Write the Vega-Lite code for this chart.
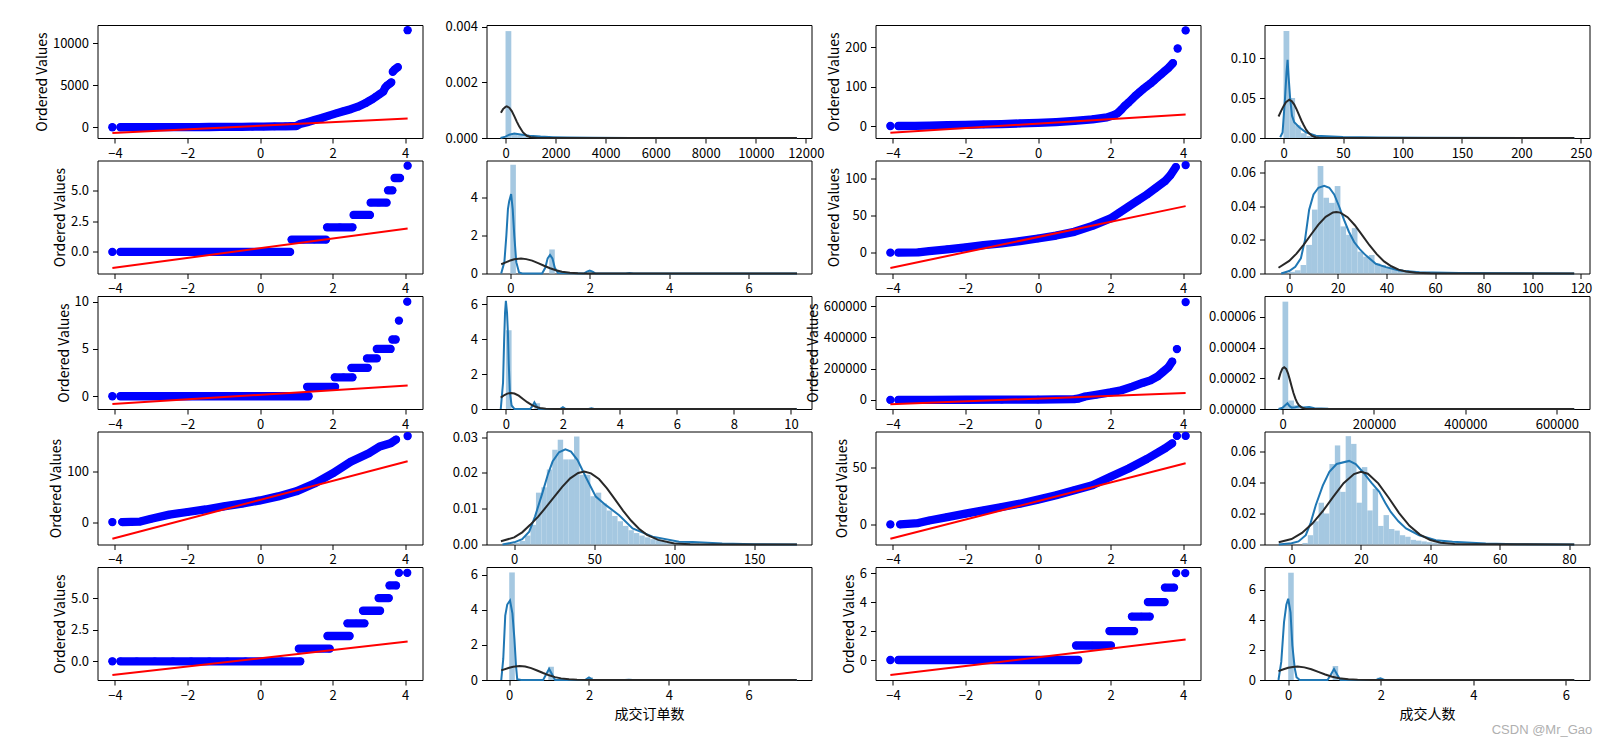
{
"$schema": "https://vega.github.io/schema/vega-lite/v6.json",
"padding": {"left": 34.5, "top": 20, "right": 5, "bottom": 5},
"background": "white",
"columns": 4,
"spacing": {"row": 22.5, "column": 64},
"bounds": "flush",
"title": {"text": "CSDN @Mr_Gao", "orient": "bottom", "anchor": "end", "fontSize": 13, "fontWeight": "normal", "color": "#b0b0b0", "font": "Liberation Sans", "offset": 2},
"config": {
  "font": "Noto Sans CJK SC",
  "view": {"stroke": "#000000", "strokeWidth": 1},
  "axis": {"grid": false, "domain": false, "tickColor": "#000000", "tickSize": 5, "tickWidth": 1, "labelColor": "#000000", "labelFont": "Noto Sans CJK SC", "labelFontSize": 13, "labelPadding": 4, "titleFont": "Noto Sans CJK SC", "titleFontSize": 14, "titleFontWeight": "normal", "titleColor": "#000000", "titlePadding": 3, "labelFlush": false, "labelOverlap": false}
},
"datasets": {
"q1": [{"x":-4.07,"y":0,"s":"a"},{"x":-3.85,"y":0,"s":"b"},{"x":-3.5,"y":5,"s":"b"},{"x":-3.2,"y":8,"s":"b"},{"x":-2.9,"y":12,"s":"b"},{"x":-2.6,"y":15,"s":"b"},{"x":-2.3,"y":18,"s":"b"},{"x":-2,"y":22,"s":"b"},{"x":-1.7,"y":26,"s":"b"},{"x":-1.4,"y":32,"s":"b"},{"x":-1.1,"y":38,"s":"b"},{"x":-0.8,"y":45,"s":"b"},{"x":-0.5,"y":55,"s":"b"},{"x":-0.2,"y":65,"s":"b"},{"x":0.1,"y":78,"s":"b"},{"x":0.4,"y":95,"s":"b"},{"x":0.7,"y":115,"s":"b"},{"x":1.0,"y":150,"s":"b"},{"x":1.1,"y":380,"s":"b"},{"x":1.3,"y":600,"s":"b"},{"x":1.5,"y":850,"s":"b"},{"x":1.7,"y":1100,"s":"b"},{"x":1.9,"y":1380,"s":"b"},{"x":2.1,"y":1650,"s":"b"},{"x":2.3,"y":1900,"s":"b"},{"x":2.5,"y":2150,"s":"b"},{"x":2.7,"y":2450,"s":"b"},{"x":2.9,"y":2850,"s":"b"},{"x":3.0,"y":3100,"s":"b"},{"x":3.1,"y":3350,"s":"b"},{"x":3.2,"y":3650,"s":"b"},{"x":3.3,"y":3950,"s":"b"},{"x":3.4,"y":4250,"s":"b"},{"x":3.45,"y":4700,"s":"b"},{"x":3.5,"y":4950,"s":"b"},{"x":3.58,"y":5200,"s":"b"},{"x":3.62,"y":5350,"s":"b"},{"x":3.66,"y":6600,"s":"c"},{"x":3.72,"y":6900,"s":"c"},{"x":3.8,"y":7150,"s":"c"},{"x":4.07,"y":11550,"s":"d"}],
"q1r": [{"x":-4.07,"y":-680},{"x":4.07,"y":1050}],
"q2": [{"x":-4.07,"y":0,"s":"a"},{"x":-3.85,"y":0,"s":"b"},{"x":-3.4,"y":0.5,"s":"b"},{"x":-3,"y":1,"s":"b"},{"x":-2.5,"y":2,"s":"b"},{"x":-2,"y":3,"s":"b"},{"x":-1.5,"y":4,"s":"b"},{"x":-1,"y":5,"s":"b"},{"x":-0.5,"y":6.5,"s":"b"},{"x":0,"y":8,"s":"b"},{"x":0.5,"y":10,"s":"b"},{"x":1,"y":13,"s":"b"},{"x":1.5,"y":17,"s":"b"},{"x":1.9,"y":22,"s":"b"},{"x":2.1,"y":28,"s":"b"},{"x":2.2,"y":33,"s":"b"},{"x":2.3,"y":42,"s":"b"},{"x":2.4,"y":52,"s":"b"},{"x":2.5,"y":60,"s":"b"},{"x":2.6,"y":69,"s":"b"},{"x":2.7,"y":78,"s":"b"},{"x":2.8,"y":86,"s":"b"},{"x":2.9,"y":94,"s":"b"},{"x":3.0,"y":101,"s":"b"},{"x":3.1,"y":108,"s":"b"},{"x":3.2,"y":116,"s":"b"},{"x":3.3,"y":124,"s":"b"},{"x":3.4,"y":132,"s":"b"},{"x":3.5,"y":140,"s":"b"},{"x":3.6,"y":148,"s":"b"},{"x":3.72,"y":160,"s":"b"},{"x":3.85,"y":197,"s":"c"},{"x":4.07,"y":243,"s":"d"}],
"q2r": [{"x":-4.07,"y":-17},{"x":4.07,"y":29}],
"q3": [{"x":-4.07,"y":0,"s":"a"},{"x":-3.85,"y":0,"s":"b"},{"x":-3.4,"y":0,"s":"b"},{"x":-2.9,"y":0,"s":"b"},{"x":-2.4,"y":0,"s":"b"},{"x":-1.9,"y":0,"s":"b"},{"x":-1.4,"y":0,"s":"b"},{"x":-0.9,"y":0,"s":"b"},{"x":-0.4,"y":0,"s":"b"},{"x":0.1,"y":0,"s":"b"},{"x":0.5,"y":0,"s":"b"},{"x":0.83,"y":0,"s":"b"},{"x":0.87,"y":1,"s":"c"},{"x":1.2,"y":1,"s":"c"},{"x":1.5,"y":1,"s":"c"},{"x":1.82,"y":1,"s":"c"},{"x":1.85,"y":2,"s":"d"},{"x":2.2,"y":2,"s":"d"},{"x":2.55,"y":2,"s":"d"},{"x":2.58,"y":3,"s":"e"},{"x":2.8,"y":3,"s":"e"},{"x":3.03,"y":3,"s":"e"},{"x":3.05,"y":4,"s":"f"},{"x":3.27,"y":4,"s":"f"},{"x":3.49,"y":4,"s":"f"},{"x":3.53,"y":5,"s":"g"},{"x":3.65,"y":5,"s":"g"},{"x":3.71,"y":6,"s":"h"},{"x":3.86,"y":6,"s":"h"},{"x":4.07,"y":7,"s":"i"}],
"q3r": [{"x":-4.07,"y":-1.3},{"x":4.07,"y":1.9}],
"q4": [{"x":-4.07,"y":0,"s":"a"},{"x":-3.85,"y":0,"s":"b"},{"x":-3.3,"y":0.5,"s":"b"},{"x":-3,"y":2,"s":"b"},{"x":-2.5,"y":4.5,"s":"b"},{"x":-2,"y":7,"s":"b"},{"x":-1.5,"y":10,"s":"b"},{"x":-1,"y":12.5,"s":"b"},{"x":-0.5,"y":15.5,"s":"b"},{"x":0,"y":19,"s":"b"},{"x":0.5,"y":23,"s":"b"},{"x":1,"y":28,"s":"b"},{"x":1.5,"y":36,"s":"b"},{"x":2,"y":46,"s":"b"},{"x":2.25,"y":54,"s":"b"},{"x":2.5,"y":62,"s":"b"},{"x":2.75,"y":70,"s":"b"},{"x":3,"y":78,"s":"b"},{"x":3.25,"y":87,"s":"b"},{"x":3.5,"y":96,"s":"b"},{"x":3.65,"y":104,"s":"b"},{"x":3.8,"y":115,"s":"b"},{"x":4.07,"y":117.6,"s":"c"}],
"q4r": [{"x":-4.07,"y":-20.5},{"x":4.07,"y":62.5}],
"q5": [{"x":-4.07,"y":0,"s":"a"},{"x":-3.85,"y":0,"s":"b"},{"x":-3.4,"y":0,"s":"b"},{"x":-2.9,"y":0,"s":"b"},{"x":-2.4,"y":0,"s":"b"},{"x":-1.9,"y":0,"s":"b"},{"x":-1.4,"y":0,"s":"b"},{"x":-0.9,"y":0,"s":"b"},{"x":-0.4,"y":0,"s":"b"},{"x":0.1,"y":0,"s":"b"},{"x":0.6,"y":0,"s":"b"},{"x":1.0,"y":0,"s":"b"},{"x":1.34,"y":0,"s":"b"},{"x":1.3,"y":1,"s":"c"},{"x":1.7,"y":1,"s":"c"},{"x":2.07,"y":1,"s":"c"},{"x":2.06,"y":2,"s":"d"},{"x":2.3,"y":2,"s":"d"},{"x":2.55,"y":2,"s":"d"},{"x":2.52,"y":3,"s":"e"},{"x":2.75,"y":3,"s":"e"},{"x":2.97,"y":3,"s":"e"},{"x":2.95,"y":4,"s":"f"},{"x":3.22,"y":4,"s":"f"},{"x":3.22,"y":5,"s":"g"},{"x":3.4,"y":5,"s":"g"},{"x":3.6,"y":5,"s":"g"},{"x":3.65,"y":6,"s":"h"},{"x":3.74,"y":6,"s":"h"},{"x":3.83,"y":8,"s":"i"},{"x":4.06,"y":10,"s":"j"}],
"q5r": [{"x":-4.07,"y":-0.82},{"x":4.07,"y":1.13}],
"q6": [{"x":-4.07,"y":0,"s":"a"},{"x":-3.85,"y":0,"s":"b"},{"x":-3,"y":500,"s":"b"},{"x":-2,"y":1000,"s":"b"},{"x":-1,"y":1500,"s":"b"},{"x":0,"y":2500,"s":"b"},{"x":1,"y":5000,"s":"b"},{"x":1.1,"y":8000,"s":"b"},{"x":1.3,"y":22000,"s":"b"},{"x":1.6,"y":33000,"s":"b"},{"x":2.0,"y":48000,"s":"b"},{"x":2.3,"y":62000,"s":"b"},{"x":2.6,"y":85000,"s":"b"},{"x":2.9,"y":110000,"s":"b"},{"x":3.1,"y":125000,"s":"b"},{"x":3.3,"y":150000,"s":"b"},{"x":3.45,"y":180000,"s":"b"},{"x":3.6,"y":210000,"s":"b"},{"x":3.7,"y":245000,"s":"b"},{"x":3.83,"y":325000,"s":"c"},{"x":4.07,"y":625000,"s":"d"}],
"q6r": [{"x":-4.07,"y":-27000},{"x":4.07,"y":44000}],
"q7": [{"x":-4.07,"y":0,"s":"a"},{"x":-3.8,"y":0,"s":"b"},{"x":-3.3,"y":1,"s":"b"},{"x":-3,"y":6.6,"s":"b"},{"x":-2.5,"y":14.7,"s":"b"},{"x":-2,"y":20,"s":"b"},{"x":-1.5,"y":25,"s":"b"},{"x":-1,"y":31,"s":"b"},{"x":-0.5,"y":36.6,"s":"b"},{"x":0,"y":43,"s":"b"},{"x":0.5,"y":51,"s":"b"},{"x":1,"y":61,"s":"b"},{"x":1.5,"y":76.6,"s":"b"},{"x":2,"y":96.6,"s":"b"},{"x":2.5,"y":120,"s":"b"},{"x":3,"y":136.6,"s":"b"},{"x":3.3,"y":150,"s":"b"},{"x":3.6,"y":156.6,"s":"b"},{"x":3.75,"y":164,"s":"b"},{"x":4.07,"y":171,"s":"c"}],
"q7r": [{"x":-4.07,"y":-33},{"x":4.07,"y":121}],
"q8": [{"x":-4.07,"y":0,"s":"a"},{"x":-3.8,"y":0,"s":"b"},{"x":-3.3,"y":1.2,"s":"b"},{"x":-3,"y":3.5,"s":"b"},{"x":-2.5,"y":6.5,"s":"b"},{"x":-2,"y":9.5,"s":"b"},{"x":-1.5,"y":12.4,"s":"b"},{"x":-1,"y":15.4,"s":"b"},{"x":-0.5,"y":18.3,"s":"b"},{"x":0,"y":21.9,"s":"b"},{"x":0.5,"y":25.7,"s":"b"},{"x":1,"y":30.2,"s":"b"},{"x":1.5,"y":34.6,"s":"b"},{"x":2,"y":42,"s":"b"},{"x":2.5,"y":49.4,"s":"b"},{"x":3,"y":57.7,"s":"b"},{"x":3.5,"y":67.1,"s":"b"},{"x":3.7,"y":71.6,"s":"b"},{"x":3.83,"y":78.1,"s":"c"},{"x":4.07,"y":78.1,"s":"d"}],
"q8r": [{"x":-4.07,"y":-12.7},{"x":4.07,"y":54}],
"q9": [{"x":-4.07,"y":0,"s":"a"},{"x":-3.85,"y":0,"s":"b"},{"x":-3.4,"y":0,"s":"b"},{"x":-2.9,"y":0,"s":"b"},{"x":-2.4,"y":0,"s":"b"},{"x":-1.9,"y":0,"s":"b"},{"x":-1.4,"y":0,"s":"b"},{"x":-0.9,"y":0,"s":"b"},{"x":-0.4,"y":0,"s":"b"},{"x":0.1,"y":0,"s":"b"},{"x":0.6,"y":0,"s":"b"},{"x":1.11,"y":0,"s":"b"},{"x":1.07,"y":1,"s":"c"},{"x":1.5,"y":1,"s":"c"},{"x":1.92,"y":1,"s":"c"},{"x":1.86,"y":2,"s":"d"},{"x":2.15,"y":2,"s":"d"},{"x":2.47,"y":2,"s":"d"},{"x":2.41,"y":3,"s":"e"},{"x":2.65,"y":3,"s":"e"},{"x":2.88,"y":3,"s":"e"},{"x":2.84,"y":4,"s":"f"},{"x":3.08,"y":4,"s":"f"},{"x":3.31,"y":4,"s":"f"},{"x":3.27,"y":5,"s":"g"},{"x":3.55,"y":5,"s":"g"},{"x":3.57,"y":6,"s":"h"},{"x":3.75,"y":6,"s":"h"},{"x":3.83,"y":7,"s":"i"},{"x":4.06,"y":7,"s":"j"}],
"q9r": [{"x":-4.07,"y":-1.09},{"x":4.07,"y":1.56}],
"q10": [{"x":-4.07,"y":0,"s":"a"},{"x":-3.85,"y":0,"s":"b"},{"x":-3.4,"y":0,"s":"b"},{"x":-2.9,"y":0,"s":"b"},{"x":-2.4,"y":0,"s":"b"},{"x":-1.9,"y":0,"s":"b"},{"x":-1.4,"y":0,"s":"b"},{"x":-0.9,"y":0,"s":"b"},{"x":-0.4,"y":0,"s":"b"},{"x":0.1,"y":0,"s":"b"},{"x":0.6,"y":0,"s":"b"},{"x":1.11,"y":0,"s":"b"},{"x":1.05,"y":1,"s":"c"},{"x":1.5,"y":1,"s":"c"},{"x":2.01,"y":1,"s":"c"},{"x":1.97,"y":2,"s":"d"},{"x":2.3,"y":2,"s":"d"},{"x":2.65,"y":2,"s":"d"},{"x":2.59,"y":3,"s":"e"},{"x":2.85,"y":3,"s":"e"},{"x":3.08,"y":3,"s":"e"},{"x":3.03,"y":4,"s":"f"},{"x":3.25,"y":4,"s":"f"},{"x":3.49,"y":4,"s":"f"},{"x":3.5,"y":5,"s":"g"},{"x":3.75,"y":5,"s":"g"},{"x":3.81,"y":6,"s":"h"},{"x":4.06,"y":6,"s":"i"}],
"q10r": [{"x":-4.07,"y":-1.04},{"x":4.07,"y":1.41}],
"h1b": [{"x":0,"x2":231,"y":0.00385},{"x":231,"x2":462,"y":0.00018},{"x":462,"x2":693,"y":0.0001},{"x":693,"x2":924,"y":0.00006},{"x":924,"x2":1155,"y":0.00004},{"x":1155,"x2":1386,"y":0.00003},{"x":1386,"x2":1617,"y":0.00002},{"x":1617,"x2":1848,"y":0.000015},{"x":1848,"x2":2079,"y":0.00001}],
"h1k": [{"x":-200,"y":0},{"x":0,"y":0.00005},{"x":150,"y":0.00012},{"x":350,"y":0.00016},{"x":600,"y":0.00013},{"x":950,"y":0.00008},{"x":1400,"y":0.00005},{"x":1900,"y":0.00003},{"x":2500,"y":0.000015},{"x":3500,"y":0.000008},{"x":5000,"y":0.000004},{"x":7000,"y":0.000002},{"x":9000,"y":0.000001},{"x":11640,"y":0}],
"h1f": [{"x":-184,"y":0.00091},{"x":-100,"y":0.00104},{"x":0,"y":0.00112},{"x":50,"y":0.00114},{"x":150,"y":0.00109},{"x":250,"y":0.00097},{"x":350,"y":0.00079},{"x":450,"y":0.00059},{"x":550,"y":0.00041},{"x":700,"y":0.0002},{"x":850,"y":0.00008},{"x":1000,"y":0.00003},{"x":1300,"y":0.000003},{"x":2000,"y":0},{"x":11640,"y":0}],
"h2b": [{"x":0,"x2":4.86,"y":0.1343},{"x":4.86,"x2":9.72,"y":0.0502},{"x":9.72,"x2":14.58,"y":0.016},{"x":14.58,"x2":19.44,"y":0.006},{"x":19.44,"x2":24.3,"y":0.0025},{"x":24.3,"x2":29.16,"y":0.0012},{"x":29.16,"x2":34.02,"y":0.0008},{"x":34.02,"x2":38.88,"y":0.0005},{"x":38.88,"x2":43.74,"y":0.0003}],
"h2k": [{"x":-2.8,"y":0.001},{"x":-0.8,"y":0.007},{"x":1.2,"y":0.049},{"x":2.5,"y":0.082},{"x":3.4,"y":0.098},{"x":4.2,"y":0.078},{"x":5.6,"y":0.049},{"x":7.1,"y":0.028},{"x":9,"y":0.0197},{"x":13.2,"y":0.0134},{"x":18.8,"y":0.0071},{"x":27.2,"y":0.0029},{"x":50,"y":0.0012},{"x":80,"y":0.0005},{"x":120,"y":0.0003},{"x":244.4,"y":0}],
"h2f": [{"x":-4.2,"y":0.027},{"x":-2,"y":0.034},{"x":0,"y":0.04},{"x":2,"y":0.045},{"x":4.8,"y":0.048},{"x":7,"y":0.046},{"x":9,"y":0.042},{"x":11,"y":0.036},{"x":13,"y":0.029},{"x":15,"y":0.022},{"x":17,"y":0.016},{"x":19,"y":0.0105},{"x":21,"y":0.0065},{"x":24,"y":0.0027},{"x":27,"y":0.001},{"x":30,"y":0.0003},{"x":35,"y":0},{"x":244.4,"y":0}],
"h3b": [{"x":0,"x2":0.14,"y":5.74},{"x":0.98,"x2":1.12,"y":1.27},{"x":1.96,"x2":2.1,"y":0.12},{"x":2.94,"x2":3.08,"y":0.035},{"x":3.92,"x2":4.06,"y":0.01}],
"h3k": [{"x":-0.23,"y":0},{"x":-0.15,"y":0.6},{"x":-0.1,"y":2.0},{"x":-0.06,"y":3.4},{"x":-0.03,"y":3.8},{"x":0.02,"y":4.2},{"x":0.06,"y":3.4},{"x":0.1,"y":2.0},{"x":0.15,"y":0.6},{"x":0.22,"y":0.05},{"x":0.3,"y":0},{"x":0.8,"y":0},{"x":0.88,"y":0.3},{"x":0.94,"y":0.8},{"x":1.0,"y":0.98},{"x":1.06,"y":0.8},{"x":1.12,"y":0.3},{"x":1.2,"y":0.02},{"x":1.85,"y":0},{"x":1.93,"y":0.1},{"x":2.0,"y":0.16},{"x":2.07,"y":0.1},{"x":2.15,"y":0},{"x":2.9,"y":0},{"x":3.0,"y":0.03},{"x":3.1,"y":0},{"x":7.22,"y":0}],
"h3f": [{"x":-0.23,"y":0.49},{"x":-0.1,"y":0.6},{"x":0,"y":0.69},{"x":0.1,"y":0.75},{"x":0.27,"y":0.79},{"x":0.4,"y":0.76},{"x":0.55,"y":0.68},{"x":0.7,"y":0.55},{"x":0.85,"y":0.41},{"x":1.0,"y":0.28},{"x":1.15,"y":0.17},{"x":1.3,"y":0.09},{"x":1.5,"y":0.04},{"x":1.7,"y":0.014},{"x":2.0,"y":0.002},{"x":2.3,"y":0},{"x":7.22,"y":0}],
"h4b": [{"x":0,"x2":2.34,"y":0.001},{"x":2.34,"x2":4.68,"y":0.002},{"x":4.68,"x2":7.02,"y":0.005},{"x":7.02,"x2":9.36,"y":0.017},{"x":9.36,"x2":11.7,"y":0.038},{"x":11.7,"x2":14.04,"y":0.064},{"x":14.04,"x2":16.38,"y":0.045},{"x":16.38,"x2":18.72,"y":0.042},{"x":18.72,"x2":21.06,"y":0.052},{"x":21.06,"x2":23.4,"y":0.028},{"x":23.4,"x2":25.74,"y":0.023},{"x":25.74,"x2":28.08,"y":0.027},{"x":28.08,"x2":30.42,"y":0.013},{"x":30.42,"x2":32.76,"y":0.01},{"x":32.76,"x2":35.1,"y":0.011},{"x":35.1,"x2":37.44,"y":0.006},{"x":37.44,"x2":39.78,"y":0.005},{"x":39.78,"x2":42.12,"y":0.004},{"x":42.12,"x2":44.46,"y":0.003},{"x":44.46,"x2":46.8,"y":0.0025},{"x":46.8,"x2":49.14,"y":0.002},{"x":49.14,"x2":51.48,"y":0.0015},{"x":51.48,"x2":53.82,"y":0.0012},{"x":53.82,"x2":56.16,"y":0.001},{"x":56.16,"x2":58.5,"y":0.0008},{"x":58.5,"x2":60.84,"y":0.0006},{"x":60.84,"x2":63.18,"y":0.0005},{"x":63.18,"x2":65.52,"y":0.0004}],
"h4k": [{"x":-3.3,"y":0},{"x":0,"y":0.0015},{"x":2.5,"y":0.004},{"x":4.8,"y":0.009},{"x":6.5,"y":0.02},{"x":8.2,"y":0.038},{"x":10,"y":0.047},{"x":12,"y":0.051},{"x":14.4,"y":0.0522},{"x":16.5,"y":0.051},{"x":18.5,"y":0.047},{"x":20.5,"y":0.04},{"x":22.6,"y":0.0317},{"x":24.5,"y":0.025},{"x":26.7,"y":0.0187},{"x":29,"y":0.0145},{"x":31.5,"y":0.0108},{"x":35.6,"y":0.0058},{"x":39.8,"y":0.0038},{"x":45.2,"y":0.0018},{"x":53.5,"y":0.0008},{"x":70,"y":0.0003},{"x":117.2,"y":0}],
"h4f": [{"x":-4.4,"y":0.0034},{"x":0,"y":0.0075},{"x":3,"y":0.0118},{"x":6,"y":0.0172},{"x":9,"y":0.0232},{"x":12,"y":0.0291},{"x":15,"y":0.0337},{"x":18,"y":0.0363},{"x":19.4,"y":0.0366},{"x":21,"y":0.0362},{"x":24,"y":0.0335},{"x":27,"y":0.0287},{"x":30,"y":0.0228},{"x":33,"y":0.0168},{"x":36,"y":0.0115},{"x":39,"y":0.0072},{"x":42,"y":0.0043},{"x":45,"y":0.0023},{"x":48,"y":0.0012},{"x":52,"y":0.0004},{"x":58,"y":0.0001},{"x":117.2,"y":0}],
"h5b": [{"x":0,"x2":0.2,"y":4.5},{"x":1,"x2":1.2,"y":0.33},{"x":2,"x2":2.2,"y":0.06},{"x":3,"x2":3.2,"y":0.03},{"x":4,"x2":4.2,"y":0.01},{"x":5,"x2":5.2,"y":0.01}],
"h5k": [{"x":-0.18,"y":0},{"x":-0.1,"y":1.5},{"x":-0.06,"y":4.0},{"x":-0.03,"y":5.5},{"x":0,"y":6.19},{"x":0.04,"y":5.5},{"x":0.07,"y":4.4},{"x":0.1,"y":2.6},{"x":0.14,"y":0.96},{"x":0.2,"y":0.2},{"x":0.3,"y":0},{"x":0.85,"y":0},{"x":0.92,"y":0.15},{"x":1.0,"y":0.38},{"x":1.08,"y":0.15},{"x":1.15,"y":0},{"x":1.9,"y":0},{"x":2.0,"y":0.1},{"x":2.1,"y":0},{"x":2.9,"y":0},{"x":3.0,"y":0.04},{"x":3.1,"y":0},{"x":10.2,"y":0}],
"h5f": [{"x":-0.18,"y":0.65},{"x":-0.05,"y":0.8},{"x":0.05,"y":0.88},{"x":0.18,"y":0.92},{"x":0.3,"y":0.885},{"x":0.45,"y":0.76},{"x":0.6,"y":0.576},{"x":0.75,"y":0.388},{"x":0.9,"y":0.232},{"x":1.05,"y":0.123},{"x":1.2,"y":0.058},{"x":1.4,"y":0.018},{"x":1.7,"y":0.002},{"x":2.0,"y":0},{"x":10.2,"y":0}],
"h6b": [{"x":0,"x2":12500,"y":0.00006982},{"x":12500,"x2":25000,"y":0.0000055},{"x":25000,"x2":37500,"y":0.0000025},{"x":37500,"x2":50000,"y":0.0000012},{"x":50000,"x2":62500,"y":0.0000007},{"x":62500,"x2":75000,"y":0.0000004}],
"h6k": [{"x":-8700,"y":0},{"x":0,"y":0.0000008},{"x":6000,"y":0.0000025},{"x":10900,"y":0.0000037},{"x":15000,"y":0.000002},{"x":20000,"y":0.0000009},{"x":28000,"y":0.0000012},{"x":36500,"y":0.0000018},{"x":45000,"y":0.000001},{"x":58400,"y":0.0000013},{"x":70000,"y":0.0000005},{"x":100000,"y":0.0000002},{"x":200000,"y":0},{"x":638000,"y":0}],
"h6f": [{"x":-8700,"y":0.000019},{"x":-4000,"y":0.0000237},{"x":0,"y":0.0000264},{"x":3700,"y":0.0000272},{"x":8000,"y":0.0000261},{"x":12000,"y":0.0000232},{"x":16000,"y":0.0000191},{"x":20000,"y":0.0000147},{"x":24000,"y":0.0000104},{"x":28000,"y":0.0000069},{"x":32000,"y":0.0000042},{"x":36000,"y":0.0000024},{"x":42000,"y":0.0000009},{"x":50000,"y":0.0000002},{"x":60000,"y":0},{"x":638000,"y":0}],
"h7b": [{"x":0,"x2":3.4,"y":0.0005},{"x":3.4,"x2":6.8,"y":0.001},{"x":6.8,"x2":10.2,"y":0.0025},{"x":10.2,"x2":13.6,"y":0.0055},{"x":13.6,"x2":17,"y":0.0145},{"x":17,"x2":20.4,"y":0.016},{"x":20.4,"x2":23.8,"y":0.021},{"x":23.8,"x2":27.2,"y":0.0265},{"x":27.2,"x2":30.6,"y":0.0293},{"x":30.6,"x2":34,"y":0.0238},{"x":34,"x2":37.4,"y":0.0238},{"x":37.4,"x2":40.8,"y":0.0302},{"x":40.8,"x2":44.2,"y":0.0195},{"x":44.2,"x2":47.6,"y":0.0195},{"x":47.6,"x2":51,"y":0.0135},{"x":51,"x2":54.4,"y":0.0145},{"x":54.4,"x2":57.8,"y":0.0115},{"x":57.8,"x2":61.2,"y":0.0095},{"x":61.2,"x2":64.6,"y":0.008},{"x":64.6,"x2":68,"y":0.0065},{"x":68,"x2":71.4,"y":0.0052},{"x":71.4,"x2":74.8,"y":0.004},{"x":74.8,"x2":78.2,"y":0.0032},{"x":78.2,"x2":81.6,"y":0.0025},{"x":81.6,"x2":85,"y":0.002},{"x":85,"x2":88.4,"y":0.0015},{"x":88.4,"x2":91.8,"y":0.0012},{"x":91.8,"x2":95.2,"y":0.001},{"x":95.2,"x2":98.6,"y":0.0008},{"x":98.6,"x2":102,"y":0.0006},{"x":102,"x2":105.4,"y":0.0005},{"x":105.4,"x2":108.8,"y":0.0004},{"x":108.8,"x2":112.2,"y":0.0004},{"x":112.2,"x2":115.6,"y":0.0003}],
"h7k": [{"x":-7.3,"y":0},{"x":0,"y":0.0006},{"x":5,"y":0.0015},{"x":9.4,"y":0.0036},{"x":13,"y":0.0078},{"x":17.7,"y":0.0145},{"x":21,"y":0.0195},{"x":24,"y":0.0232},{"x":28,"y":0.0258},{"x":32,"y":0.0266},{"x":35.5,"y":0.026},{"x":39.6,"y":0.0236},{"x":44.8,"y":0.0188},{"x":51,"y":0.0134},{"x":57.3,"y":0.011},{"x":65.6,"y":0.0082},{"x":74,"y":0.0045},{"x":86.5,"y":0.0022},{"x":103,"y":0.0008},{"x":111.5,"y":0.0007},{"x":130,"y":0.0003},{"x":150,"y":0.0001},{"x":176.7,"y":0}],
"h7f": [{"x":-8.3,"y":0.0009},{"x":0,"y":0.002},{"x":5,"y":0.0034},{"x":10,"y":0.0055},{"x":15,"y":0.0078},{"x":20,"y":0.0105},{"x":25,"y":0.0133},{"x":30,"y":0.0161},{"x":35,"y":0.0185},{"x":40,"y":0.02},{"x":43.8,"y":0.0204},{"x":48,"y":0.0199},{"x":53,"y":0.0183},{"x":58,"y":0.0157},{"x":63,"y":0.0126},{"x":68,"y":0.0095},{"x":73,"y":0.0067},{"x":78,"y":0.0044},{"x":83,"y":0.0027},{"x":90,"y":0.0013},{"x":100,"y":0.0003},{"x":110,"y":0.0001},{"x":176.7,"y":0}],
"h8b": [{"x":3.12,"x2":4.68,"y":0.001},{"x":4.68,"x2":6.24,"y":0.006},{"x":6.24,"x2":7.8,"y":0.015},{"x":7.8,"x2":9.36,"y":0.027},{"x":9.36,"x2":10.92,"y":0.02},{"x":10.92,"x2":12.48,"y":0.052},{"x":12.48,"x2":14.04,"y":0.064},{"x":14.04,"x2":15.6,"y":0.034},{"x":15.6,"x2":17.16,"y":0.07},{"x":17.16,"x2":18.72,"y":0.065},{"x":18.72,"x2":20.28,"y":0.027},{"x":20.28,"x2":21.84,"y":0.05},{"x":21.84,"x2":23.4,"y":0.022},{"x":23.4,"x2":24.96,"y":0.036},{"x":24.96,"x2":26.52,"y":0.012},{"x":26.52,"x2":28.08,"y":0.019},{"x":28.08,"x2":29.64,"y":0.01},{"x":29.64,"x2":31.2,"y":0.009},{"x":31.2,"x2":32.76,"y":0.006},{"x":32.76,"x2":34.32,"y":0.005},{"x":34.32,"x2":35.88,"y":0.003},{"x":35.88,"x2":37.44,"y":0.0025},{"x":37.44,"x2":39,"y":0.002},{"x":39,"x2":40.56,"y":0.0015},{"x":40.56,"x2":42.12,"y":0.0012},{"x":42.12,"x2":43.68,"y":0.001},{"x":43.68,"x2":45.24,"y":0.0008},{"x":45.24,"x2":46.8,"y":0.0006},{"x":46.8,"x2":48.36,"y":0.0005}],
"h8k": [{"x":-3.7,"y":0},{"x":0,"y":0.0008},{"x":2,"y":0.002},{"x":4.1,"y":0.006},{"x":5.5,"y":0.014},{"x":7,"y":0.0255},{"x":9,"y":0.038},{"x":10.9,"y":0.047},{"x":13,"y":0.052},{"x":16.6,"y":0.054},{"x":18.5,"y":0.052},{"x":20.5,"y":0.047},{"x":23,"y":0.04},{"x":25.3,"y":0.034},{"x":27,"y":0.027},{"x":28.6,"y":0.021},{"x":30.8,"y":0.015},{"x":33,"y":0.0104},{"x":36.8,"y":0.006},{"x":41.6,"y":0.0028},{"x":46.4,"y":0.0017},{"x":56,"y":0.0006},{"x":65,"y":0.0002},{"x":81.5,"y":0}],
"h8f": [{"x":-3.7,"y":0.0015},{"x":0,"y":0.0035},{"x":3,"y":0.0075},{"x":6,"y":0.0135},{"x":9,"y":0.0215},{"x":12,"y":0.0308},{"x":15,"y":0.0396},{"x":18,"y":0.0455},{"x":20,"y":0.047},{"x":22,"y":0.0457},{"x":25,"y":0.0395},{"x":28,"y":0.0302},{"x":31,"y":0.0203},{"x":34,"y":0.0121},{"x":37,"y":0.0064},{"x":40,"y":0.0029},{"x":43,"y":0.0012},{"x":47,"y":0.0003},{"x":81.5,"y":0}],
"h9b": [{"x":0,"x2":0.14,"y":6.13},{"x":0.98,"x2":1.12,"y":0.76},{"x":1.96,"x2":2.1,"y":0.15},{"x":2.94,"x2":3.08,"y":0.04},{"x":3.92,"x2":4.06,"y":0.015}],
"h9k": [{"x":-0.2,"y":0},{"x":-0.15,"y":1.2},{"x":-0.1,"y":3.67},{"x":-0.05,"y":4.3},{"x":0.02,"y":4.53},{"x":0.08,"y":3.8},{"x":0.13,"y":2.34},{"x":0.17,"y":0.8},{"x":0.2,"y":0.05},{"x":0.3,"y":0},{"x":0.85,"y":0},{"x":0.92,"y":0.3},{"x":1.0,"y":0.63},{"x":1.08,"y":0.3},{"x":1.15,"y":0},{"x":1.9,"y":0},{"x":2.0,"y":0.15},{"x":2.1,"y":0},{"x":2.9,"y":0},{"x":3.0,"y":0.02},{"x":3.1,"y":0},{"x":7.21,"y":0}],
"h9f": [{"x":-0.2,"y":0.55},{"x":0,"y":0.7},{"x":0.1,"y":0.76},{"x":0.26,"y":0.8},{"x":0.4,"y":0.77},{"x":0.55,"y":0.676},{"x":0.7,"y":0.543},{"x":0.85,"y":0.398},{"x":1.0,"y":0.267},{"x":1.15,"y":0.164},{"x":1.3,"y":0.092},{"x":1.5,"y":0.037},{"x":1.7,"y":0.013},{"x":2.0,"y":0.002},{"x":2.3,"y":0},{"x":7.21,"y":0}],
"h10b": [{"x":0,"x2":0.12,"y":7.13},{"x":0.96,"x2":1.08,"y":0.93},{"x":1.92,"x2":2.04,"y":0.15},{"x":2.88,"x2":3.0,"y":0.04},{"x":3.84,"x2":3.96,"y":0.015}],
"h10k": [{"x":-0.21,"y":0},{"x":-0.15,"y":1.2},{"x":-0.09,"y":3.84},{"x":-0.04,"y":5.0},{"x":0,"y":5.4},{"x":0.05,"y":4.5},{"x":0.09,"y":2.29},{"x":0.14,"y":0.8},{"x":0.18,"y":0.18},{"x":0.25,"y":0},{"x":0.85,"y":0},{"x":0.92,"y":0.35},{"x":0.99,"y":0.73},{"x":1.06,"y":0.35},{"x":1.13,"y":0},{"x":1.9,"y":0},{"x":1.99,"y":0.11},{"x":2.08,"y":0},{"x":6.18,"y":0}],
"h10f": [{"x":-0.21,"y":0.59},{"x":-0.1,"y":0.71},{"x":0,"y":0.81},{"x":0.1,"y":0.87},{"x":0.2,"y":0.89},{"x":0.35,"y":0.84},{"x":0.5,"y":0.71},{"x":0.65,"y":0.54},{"x":0.8,"y":0.366},{"x":0.95,"y":0.222},{"x":1.1,"y":0.12},{"x":1.3,"y":0.045},{"x":1.5,"y":0.014},{"x":1.8,"y":0.002},{"x":2.1,"y":0},{"x":6.18,"y":0}]
},
"concat": [
{"width":325,"height":113,
 "encoding":{"x":{"field":"x","type":"quantitative","scale":{"domain":[-4.48,4.48],"nice":false,"zero":false},"axis":{"values":[-4,-2,0,2,4],"title":null}},
  "y":{"field":"y","type":"quantitative","scale":{"domain":[-1280,12170],"nice":false,"zero":false},"axis":{"values":[0,5000,10000],"format":"d","title":"Ordered Values"}}},
 "layer":[
  {"data":{"name":"q1"},"mark":{"type":"line","color":"#0000ff","strokeWidth":8.3,"strokeCap":"round","strokeJoin":"round"},"encoding":{"detail":{"field":"s"}}},
  {"data":{"name":"q1"},"mark":{"type":"circle","color":"#0000ff","size":55,"opacity":1},"encoding":{}},
  {"data":{"name":"q1r"},"mark":{"type":"line","color":"#ff0000","strokeWidth":2},"encoding":{}}
 ]},
{"width":325,"height":113,
 "encoding":{"x":{"field":"x","type":"quantitative","scale":{"domain":[-760,12225],"nice":false,"zero":false},"axis":{"values":[0,2000,4000,6000,8000,10000,12000],"format":"d","title":null}},
  "y":{"field":"y","type":"quantitative","stack":null,"scale":{"domain":[0,0.00407],"nice":false,"zero":false},"axis":{"values":[0,0.002,0.004],"format":".3f","title":null}}},
 "layer":[
  {"data":{"name":"h1b"},"mark":{"type":"rect","color":"#a5c8e1"},"encoding":{"x2":{"field":"x2"},"y2":{"datum":0}}},
  {"data":{"name":"h1k"},"mark":{"type":"line","color":"#1f77b4","strokeWidth":2},"encoding":{}},
  {"data":{"name":"h1f"},"mark":{"type":"line","color":"#282828","strokeWidth":2},"encoding":{}}
 ]},
{"width":325,"height":113,
 "encoding":{"x":{"field":"x","type":"quantitative","scale":{"domain":[-4.48,4.48],"nice":false,"zero":false},"axis":{"values":[-4,-2,0,2,4],"title":null}},
  "y":{"field":"y","type":"quantitative","scale":{"domain":[-30.5,256.8],"nice":false,"zero":false},"axis":{"values":[0,100,200],"format":"d","title":"Ordered Values"}}},
 "layer":[
  {"data":{"name":"q2"},"mark":{"type":"line","color":"#0000ff","strokeWidth":8.3,"strokeCap":"round","strokeJoin":"round"},"encoding":{"detail":{"field":"s"}}},
  {"data":{"name":"q2"},"mark":{"type":"circle","color":"#0000ff","size":55,"opacity":1},"encoding":{}},
  {"data":{"name":"q2r"},"mark":{"type":"line","color":"#ff0000","strokeWidth":2},"encoding":{}}
 ]},
{"width":325,"height":113,
 "encoding":{"x":{"field":"x","type":"quantitative","scale":{"domain":[-16,257.2],"nice":false,"zero":false},"axis":{"values":[0,50,100,150,200,250],"format":"d","title":null}},
  "y":{"field":"y","type":"quantitative","stack":null,"scale":{"domain":[0,0.1418],"nice":false,"zero":false},"axis":{"values":[0,0.05,0.1],"format":".2f","title":null}}},
 "layer":[
  {"data":{"name":"h2b"},"mark":{"type":"rect","color":"#a5c8e1"},"encoding":{"x2":{"field":"x2"},"y2":{"datum":0}}},
  {"data":{"name":"h2k"},"mark":{"type":"line","color":"#1f77b4","strokeWidth":2},"encoding":{}},
  {"data":{"name":"h2f"},"mark":{"type":"line","color":"#282828","strokeWidth":2},"encoding":{}}
 ]},
{"width":325,"height":113,
 "encoding":{"x":{"field":"x","type":"quantitative","scale":{"domain":[-4.48,4.48],"nice":false,"zero":false},"axis":{"values":[-4,-2,0,2,4],"title":null}},
  "y":{"field":"y","type":"quantitative","scale":{"domain":[-1.75,7.42],"nice":false,"zero":false},"axis":{"values":[0,2.5,5],"format":".1f","title":"Ordered Values"}}},
 "layer":[
  {"data":{"name":"q3"},"mark":{"type":"line","color":"#0000ff","strokeWidth":8.3,"strokeCap":"round","strokeJoin":"round"},"encoding":{"detail":{"field":"s"}}},
  {"data":{"name":"q3"},"mark":{"type":"circle","color":"#0000ff","size":55,"opacity":1},"encoding":{}},
  {"data":{"name":"q3r"},"mark":{"type":"line","color":"#ff0000","strokeWidth":2},"encoding":{}}
 ]},
{"width":325,"height":113,
 "encoding":{"x":{"field":"x","type":"quantitative","scale":{"domain":[-0.6,7.585],"nice":false,"zero":false},"axis":{"values":[0,2,4,6],"format":"d","title":null}},
  "y":{"field":"y","type":"quantitative","stack":null,"scale":{"domain":[0,5.97],"nice":false,"zero":false},"axis":{"values":[0,2,4],"format":"d","title":null}}},
 "layer":[
  {"data":{"name":"h3b"},"mark":{"type":"rect","color":"#a5c8e1"},"encoding":{"x2":{"field":"x2"},"y2":{"datum":0}}},
  {"data":{"name":"h3k"},"mark":{"type":"line","color":"#1f77b4","strokeWidth":2},"encoding":{}},
  {"data":{"name":"h3f"},"mark":{"type":"line","color":"#282828","strokeWidth":2},"encoding":{}}
 ]},
{"width":325,"height":113,
 "encoding":{"x":{"field":"x","type":"quantitative","scale":{"domain":[-4.48,4.48],"nice":false,"zero":false},"axis":{"values":[-4,-2,0,2,4],"title":null}},
  "y":{"field":"y","type":"quantitative","scale":{"domain":[-28,123.8],"nice":false,"zero":false},"axis":{"values":[0,50,100],"format":"d","title":"Ordered Values"}}},
 "layer":[
  {"data":{"name":"q4"},"mark":{"type":"line","color":"#0000ff","strokeWidth":8.3,"strokeCap":"round","strokeJoin":"round"},"encoding":{"detail":{"field":"s"}}},
  {"data":{"name":"q4"},"mark":{"type":"circle","color":"#0000ff","size":55,"opacity":1},"encoding":{}},
  {"data":{"name":"q4r"},"mark":{"type":"line","color":"#ff0000","strokeWidth":2},"encoding":{}}
 ]},
{"width":325,"height":113,
 "encoding":{"x":{"field":"x","type":"quantitative","scale":{"domain":[-10.16,123.5],"nice":false,"zero":false},"axis":{"values":[0,20,40,60,80,100,120],"format":"d","title":null}},
  "y":{"field":"y","type":"quantitative","stack":null,"scale":{"domain":[0,0.0672],"nice":false,"zero":false},"axis":{"values":[0,0.02,0.04,0.06],"format":".2f","title":null}}},
 "layer":[
  {"data":{"name":"h4b"},"mark":{"type":"rect","color":"#a5c8e1"},"encoding":{"x2":{"field":"x2"},"y2":{"datum":0}}},
  {"data":{"name":"h4k"},"mark":{"type":"line","color":"#1f77b4","strokeWidth":2},"encoding":{}},
  {"data":{"name":"h4f"},"mark":{"type":"line","color":"#282828","strokeWidth":2},"encoding":{}}
 ]},
{"width":325,"height":113,
 "encoding":{"x":{"field":"x","type":"quantitative","scale":{"domain":[-4.48,4.48],"nice":false,"zero":false},"axis":{"values":[-4,-2,0,2,4],"title":null}},
  "y":{"field":"y","type":"quantitative","scale":{"domain":[-1.35,10.6],"nice":false,"zero":false},"axis":{"values":[0,5,10],"format":"d","title":"Ordered Values"}}},
 "layer":[
  {"data":{"name":"q5"},"mark":{"type":"line","color":"#0000ff","strokeWidth":8.3,"strokeCap":"round","strokeJoin":"round"},"encoding":{"detail":{"field":"s"}}},
  {"data":{"name":"q5"},"mark":{"type":"circle","color":"#0000ff","size":55,"opacity":1},"encoding":{}},
  {"data":{"name":"q5r"},"mark":{"type":"line","color":"#ff0000","strokeWidth":2},"encoding":{}}
 ]},
{"width":325,"height":113,
 "encoding":{"x":{"field":"x","type":"quantitative","scale":{"domain":[-0.68,10.72],"nice":false,"zero":false},"axis":{"values":[0,2,4,6,8,10],"format":"d","title":null}},
  "y":{"field":"y","type":"quantitative","stack":null,"scale":{"domain":[0,6.46],"nice":false,"zero":false},"axis":{"values":[0,2,4,6],"format":"d","title":null}}},
 "layer":[
  {"data":{"name":"h5b"},"mark":{"type":"rect","color":"#a5c8e1"},"encoding":{"x2":{"field":"x2"},"y2":{"datum":0}}},
  {"data":{"name":"h5k"},"mark":{"type":"line","color":"#1f77b4","strokeWidth":2},"encoding":{}},
  {"data":{"name":"h5f"},"mark":{"type":"line","color":"#282828","strokeWidth":2},"encoding":{}}
 ]},
{"width":325,"height":113,
 "encoding":{"x":{"field":"x","type":"quantitative","scale":{"domain":[-4.48,4.48],"nice":false,"zero":false},"axis":{"values":[-4,-2,0,2,4],"title":null}},
  "y":{"field":"y","type":"quantitative","scale":{"domain":[-58000,664000],"nice":false,"zero":false},"axis":{"values":[0,200000,400000,600000],"format":"d","title":"Ordered Values"}}},
 "layer":[
  {"data":{"name":"q6"},"mark":{"type":"line","color":"#0000ff","strokeWidth":8.3,"strokeCap":"round","strokeJoin":"round"},"encoding":{"detail":{"field":"s"}}},
  {"data":{"name":"q6"},"mark":{"type":"circle","color":"#0000ff","size":55,"opacity":1},"encoding":{}},
  {"data":{"name":"q6r"},"mark":{"type":"line","color":"#ff0000","strokeWidth":2},"encoding":{}}
 ]},
{"width":325,"height":113,
 "encoding":{"x":{"field":"x","type":"quantitative","scale":{"domain":[-39400,671500],"nice":false,"zero":false},"axis":{"values":[0,200000,400000,600000],"format":"d","title":null}},
  "y":{"field":"y","type":"quantitative","stack":null,"scale":{"domain":[0,0.0000735],"nice":false,"zero":false},"axis":{"values":[0,0.00002,0.00004,0.00006],"format":".5f","title":null}}},
 "layer":[
  {"data":{"name":"h6b"},"mark":{"type":"rect","color":"#a5c8e1"},"encoding":{"x2":{"field":"x2"},"y2":{"datum":0}}},
  {"data":{"name":"h6k"},"mark":{"type":"line","color":"#1f77b4","strokeWidth":2},"encoding":{}},
  {"data":{"name":"h6f"},"mark":{"type":"line","color":"#282828","strokeWidth":2},"encoding":{}}
 ]},
{"width":325,"height":113,
 "encoding":{"x":{"field":"x","type":"quantitative","scale":{"domain":[-4.48,4.48],"nice":false,"zero":false},"axis":{"values":[-4,-2,0,2,4],"title":null}},
  "y":{"field":"y","type":"quantitative","scale":{"domain":[-44.6,180],"nice":false,"zero":false},"axis":{"values":[0,100],"format":"d","title":"Ordered Values"}}},
 "layer":[
  {"data":{"name":"q7"},"mark":{"type":"line","color":"#0000ff","strokeWidth":8.3,"strokeCap":"round","strokeJoin":"round"},"encoding":{"detail":{"field":"s"}}},
  {"data":{"name":"q7"},"mark":{"type":"circle","color":"#0000ff","size":55,"opacity":1},"encoding":{}},
  {"data":{"name":"q7r"},"mark":{"type":"line","color":"#ff0000","strokeWidth":2},"encoding":{}}
 ]},
{"width":325,"height":113,
 "encoding":{"x":{"field":"x","type":"quantitative","scale":{"domain":[-17.3,185.8],"nice":false,"zero":false},"axis":{"values":[0,50,100,150],"format":"d","title":null}},
  "y":{"field":"y","type":"quantitative","stack":null,"scale":{"domain":[0,0.0316],"nice":false,"zero":false},"axis":{"values":[0,0.01,0.02,0.03],"format":".2f","title":null}}},
 "layer":[
  {"data":{"name":"h7b"},"mark":{"type":"rect","color":"#a5c8e1"},"encoding":{"x2":{"field":"x2"},"y2":{"datum":0}}},
  {"data":{"name":"h7k"},"mark":{"type":"line","color":"#1f77b4","strokeWidth":2},"encoding":{}},
  {"data":{"name":"h7f"},"mark":{"type":"line","color":"#282828","strokeWidth":2},"encoding":{}}
 ]},
{"width":325,"height":113,
 "encoding":{"x":{"field":"x","type":"quantitative","scale":{"domain":[-4.48,4.48],"nice":false,"zero":false},"axis":{"values":[-4,-2,0,2,4],"title":null}},
  "y":{"field":"y","type":"quantitative","scale":{"domain":[-17.7,82],"nice":false,"zero":false},"axis":{"values":[0,50],"format":"d","title":"Ordered Values"}}},
 "layer":[
  {"data":{"name":"q8"},"mark":{"type":"line","color":"#0000ff","strokeWidth":8.3,"strokeCap":"round","strokeJoin":"round"},"encoding":{"detail":{"field":"s"}}},
  {"data":{"name":"q8"},"mark":{"type":"circle","color":"#0000ff","size":55,"opacity":1},"encoding":{}},
  {"data":{"name":"q8r"},"mark":{"type":"line","color":"#ff0000","strokeWidth":2},"encoding":{}}
 ]},
{"width":325,"height":113,
 "encoding":{"x":{"field":"x","type":"quantitative","scale":{"domain":[-7.8,85.9],"nice":false,"zero":false},"axis":{"values":[0,20,40,60,80],"format":"d","title":null}},
  "y":{"field":"y","type":"quantitative","stack":null,"scale":{"domain":[0,0.073],"nice":false,"zero":false},"axis":{"values":[0,0.02,0.04,0.06],"format":".2f","title":null}}},
 "layer":[
  {"data":{"name":"h8b"},"mark":{"type":"rect","color":"#a5c8e1"},"encoding":{"x2":{"field":"x2"},"y2":{"datum":0}}},
  {"data":{"name":"h8k"},"mark":{"type":"line","color":"#1f77b4","strokeWidth":2},"encoding":{}},
  {"data":{"name":"h8f"},"mark":{"type":"line","color":"#282828","strokeWidth":2},"encoding":{}}
 ]},
{"width":325,"height":113,
 "encoding":{"x":{"field":"x","type":"quantitative","scale":{"domain":[-4.48,4.48],"nice":false,"zero":false},"axis":{"values":[-4,-2,0,2,4],"title":null}},
  "y":{"field":"y","type":"quantitative","scale":{"domain":[-1.48,7.46],"nice":false,"zero":false},"axis":{"values":[0,2.5,5],"format":".1f","title":"Ordered Values"}}},
 "layer":[
  {"data":{"name":"q9"},"mark":{"type":"line","color":"#0000ff","strokeWidth":8.3,"strokeCap":"round","strokeJoin":"round"},"encoding":{"detail":{"field":"s"}}},
  {"data":{"name":"q9"},"mark":{"type":"circle","color":"#0000ff","size":55,"opacity":1},"encoding":{}},
  {"data":{"name":"q9r"},"mark":{"type":"line","color":"#ff0000","strokeWidth":2},"encoding":{}}
 ]},
{"width":325,"height":113,
 "encoding":{"x":{"field":"x","type":"quantitative","scale":{"domain":[-0.57,7.58],"nice":false,"zero":false},"axis":{"values":[0,2,4,6],"format":"d","title":"成交订单数","titlePadding":5}},
  "y":{"field":"y","type":"quantitative","stack":null,"scale":{"domain":[0,6.44],"nice":false,"zero":false},"axis":{"values":[0,2,4,6],"format":"d","title":null}}},
 "layer":[
  {"data":{"name":"h9b"},"mark":{"type":"rect","color":"#a5c8e1"},"encoding":{"x2":{"field":"x2"},"y2":{"datum":0}}},
  {"data":{"name":"h9k"},"mark":{"type":"line","color":"#1f77b4","strokeWidth":2},"encoding":{}},
  {"data":{"name":"h9f"},"mark":{"type":"line","color":"#282828","strokeWidth":2},"encoding":{}}
 ]},
{"width":325,"height":113,
 "encoding":{"x":{"field":"x","type":"quantitative","scale":{"domain":[-4.48,4.48],"nice":false,"zero":false},"axis":{"values":[-4,-2,0,2,4],"title":null}},
  "y":{"field":"y","type":"quantitative","scale":{"domain":[-1.38,6.42],"nice":false,"zero":false},"axis":{"values":[0,2,4,6],"format":"d","title":"Ordered Values"}}},
 "layer":[
  {"data":{"name":"q10"},"mark":{"type":"line","color":"#0000ff","strokeWidth":8.3,"strokeCap":"round","strokeJoin":"round"},"encoding":{"detail":{"field":"s"}}},
  {"data":{"name":"q10"},"mark":{"type":"circle","color":"#0000ff","size":55,"opacity":1},"encoding":{}},
  {"data":{"name":"q10r"},"mark":{"type":"line","color":"#ff0000","strokeWidth":2},"encoding":{}}
 ]},
{"width":325,"height":113,
 "encoding":{"x":{"field":"x","type":"quantitative","scale":{"domain":[-0.512,6.51],"nice":false,"zero":false},"axis":{"values":[0,2,4,6],"format":"d","title":"成交人数","titlePadding":5}},
  "y":{"field":"y","type":"quantitative","stack":null,"scale":{"domain":[0,7.51],"nice":false,"zero":false},"axis":{"values":[0,2,4,6],"format":"d","title":null}}},
 "layer":[
  {"data":{"name":"h10b"},"mark":{"type":"rect","color":"#a5c8e1"},"encoding":{"x2":{"field":"x2"},"y2":{"datum":0}}},
  {"data":{"name":"h10k"},"mark":{"type":"line","color":"#1f77b4","strokeWidth":2},"encoding":{}},
  {"data":{"name":"h10f"},"mark":{"type":"line","color":"#282828","strokeWidth":2},"encoding":{}}
 ]}
]
}
